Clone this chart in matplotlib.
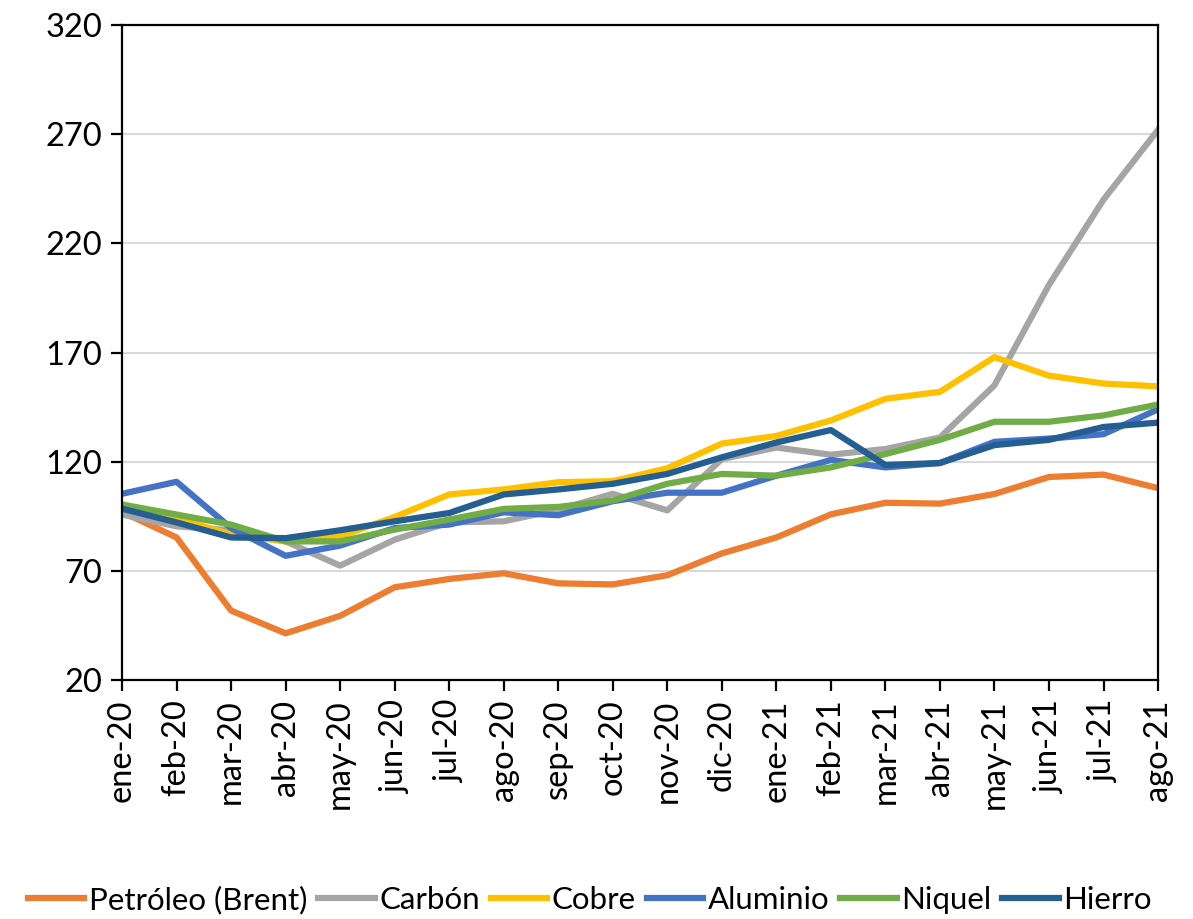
import matplotlib.pyplot as plt

plt.rcParams['font.family'] = ['Lato', 'DejaVu Sans']

meses = ['ene-20', 'feb-20', 'mar-20', 'abr-20', 'may-20', 'jun-20', 'jul-20',
         'ago-20', 'sep-20', 'oct-20', 'nov-20', 'dic-20', 'ene-21', 'feb-21',
         'mar-21', 'abr-21', 'may-21', 'jun-21', 'jul-21', 'ago-21']
y_ticks = [20, 70, 120, 170, 220, 270, 320]

petroleo = [97, 85.3, 51.8, 41.4, 49.4, 62.5, 66.3, 68.9, 64.3, 63.8,
            68, 78, 85.3, 95.9, 101.2, 100.8, 105.2, 113, 114.1, 107.9]
carbon = [95.8, 90.4, 88.6, 83.5, 72.4, 84.3, 92.2, 92.7, 98, 105.3,
          97.7, 121.2, 126.5, 123.2, 125.8, 131.1, 155, 201, 240, 272]
cobre = [100.4, 94.2, 86.6, 83.5, 85.8, 94.7, 105, 107.3, 110.6, 111.1,
         117, 128.3, 131.8, 138.9, 148.8, 152, 167.9, 159.4, 155.8, 154.5]
aluminio = [105.3, 110.8, 89.6, 76.9, 81.6, 89.6, 91.2, 96.8, 95.5, 101.9,
            105.8, 105.8, 113.6, 120.8, 117.4, 119.4, 129.1, 130.6, 132.6, 144]
niquel = [100.4, 95.8, 91.2, 83.5, 83.5, 88.9, 93.5, 98.4, 99.3, 102.2,
          109.9, 114.4, 113.6, 117.4, 123.5, 130, 138.3, 138.3, 141.2, 146.2]
hierro = [98.5, 92.2, 85.3, 85, 88.6, 92.7, 96.5, 105, 107.3, 109.9,
          114.4, 122, 128.8, 134.5, 118.5, 119.4, 127.6, 130, 135.9, 137.9]

series = [('Petróleo (Brent)', petroleo, '#ED7D31'),
          ('Carbón', carbon, '#A5A5A5'),
          ('Cobre', cobre, '#FFC000'),
          ('Aluminio', aluminio, '#4472C4'),
          ('Niquel', niquel, '#70AD47'),
          ('Hierro', hierro, '#255E91')]

fig = plt.figure(figsize=(11.93, 9.19), dpi=100)
ax = fig.add_axes([0.1023, 0.26, 0.8684, 0.7128])

x = list(range(len(meses)))
for nombre, valores, color in series:
    ax.plot(x, valores, color=color, lw=4.5, label=nombre,
            solid_joinstyle='round')

ax.set_xlim(0, len(meses) - 1)
ax.set_ylim(20, 320)
ax.set_yticks(y_ticks)
ax.set_xticks(x)
ax.set_xticklabels(meses, rotation=90)
ax.grid(axis='y', color='#D9D9D9', lw=1.5)
ax.set_axisbelow(True)

for s in ax.spines.values():
    s.set_color('black')
    s.set_linewidth(1.6)
ax.tick_params(axis='both', direction='out', length=8, width=1.6,
               labelsize=23.5, colors='black')
ax.tick_params(axis='y', pad=6)
ax.tick_params(axis='x', pad=6)

fig.legend(loc='center', bbox_to_anchor=(0.4945, 0.021), ncol=6,
           frameon=False, fontsize=22.5, handlelength=1.8,
           handletextpad=0.15, columnspacing=0.35)

fig.savefig('out.png', dpi=100)
